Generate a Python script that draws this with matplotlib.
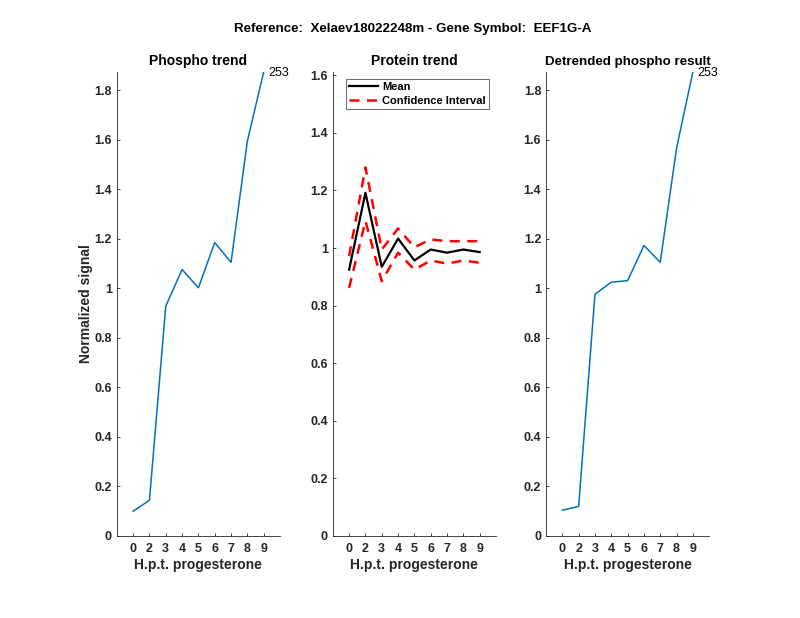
import matplotlib
matplotlib.use("Agg")
import matplotlib.pyplot as plt

# ---- Data ------------------------------------------------------------------
time_labels = ["0", "2", "3", "4", "5", "6", "7", "8", "9"]
phospho = [0.100, 0.144, 0.928, 1.076, 1.002, 1.185, 1.105, 1.594, 1.874]
detrended = [0.104, 0.120, 0.976, 1.025, 1.031, 1.173, 1.105, 1.566, 1.874]
protein_mean = [0.925, 1.192, 0.935, 1.033, 0.957, 0.995, 0.984, 0.995, 0.986]
protein_upper = [0.972, 1.280, 0.995, 1.068, 1.003, 1.030, 1.024, 1.024, 1.024]
protein_lower = [0.862, 1.094, 0.885, 0.984, 0.925, 0.957, 0.946, 0.957, 0.949]
site_label = "253"

# ---- Style ------------------------------------------------------------------
plt.rcParams.update({"font.family": ["Liberation Sans", "DejaVu Sans"],
                     "font.size": 9, "font.weight": "bold"})
blue = "#0072BD"
axcol = "#262626"
xpos = list(range(1, len(time_labels) + 1))

fig = plt.figure(figsize=(8, 6.18), dpi=100)
lefts = [0.146, 0.416, 0.6825]
bottom, width, height = 0.1327, 0.204, 0.751
axes = [fig.add_axes([l, bottom, width, height]) for l in lefts]


def style(ax, ymax):
    ax.set_xlim(0, 10)
    ax.set_ylim(0, ymax)
    ax.set_xticks(xpos)
    ax.set_xticklabels(time_labels)
    ax.spines[["top", "right"]].set_visible(False)
    for s in ("left", "bottom"):
        ax.spines[s].set_color(axcol)
        ax.spines[s].set_linewidth(0.6)
    ax.tick_params(direction="in", length=2.5, width=0.6, color=axcol,
                   labelcolor=axcol, labelsize=9)
    ax.tick_params(axis="x", pad=5)
    ax.set_xlabel("H.p.t. progesterone", fontsize=10, fontweight="bold",
                  color=axcol, labelpad=2)


# Phospho trend
ax = axes[0]
ax.plot(xpos, phospho, color=blue, lw=1.1)
style(ax, max(phospho))
ax.set_yticks([0, 0.2, 0.4, 0.6, 0.8, 1, 1.2, 1.4, 1.6, 1.8])
ax.set_yticklabels(["0", "0.2", "0.4", "0.6", "0.8", "1", "1.2", "1.4", "1.6", "1.8"])
ax.set_title("Phospho trend", fontsize=10, fontweight="bold", pad=5)
ax.set_ylabel("Normalized signal", fontsize=10, fontweight="bold", color=axcol,
              labelpad=1)
ax.annotate(site_label, (xpos[-1], phospho[-1]), xytext=(3, -1),
            textcoords="offset points", va="center", ha="left",
            fontsize=9, fontweight="normal")

# Protein trend
ax = axes[1]
ax.plot(xpos, protein_mean, color="black", lw=1.6, label="Mean")
ax.plot(xpos, protein_upper, color="red", lw=1.8, ls=(0, (4, 3)),
        label="Confidence Interval")
ax.plot(xpos, protein_lower, color="red", lw=1.8, ls=(0, (4, 3)))
style(ax, 1.612)
ax.set_yticks([0, 0.2, 0.4, 0.6, 0.8, 1, 1.2, 1.4, 1.6])
ax.set_yticklabels(["0", "0.2", "0.4", "0.6", "0.8", "1", "1.2", "1.4", "1.6"])
ax.set_title("Protein trend", fontsize=10, fontweight="bold", pad=5)
leg = ax.legend(loc="upper left", fontsize=8, frameon=True, fancybox=False,
                edgecolor=axcol, handlelength=2.6, borderpad=0.3,
                labelspacing=0.35, handletextpad=0.35, borderaxespad=0,
                bbox_to_anchor=(0.08, 0.985))
leg.get_frame().set_linewidth(0.6)

# Detrended phospho result
ax = axes[2]
ax.plot(xpos, detrended, color=blue, lw=1.1)
style(ax, max(detrended))
ax.set_yticks([0, 0.2, 0.4, 0.6, 0.8, 1, 1.2, 1.4, 1.6, 1.8])
ax.set_yticklabels(["0", "0.2", "0.4", "0.6", "0.8", "1", "1.2", "1.4", "1.6", "1.8"])
ax.set_title("Detrended phospho result", fontsize=9.6, fontweight="bold", pad=5)
ax.annotate(site_label, (xpos[-1], detrended[-1]), xytext=(3, -1),
            textcoords="offset points", va="center", ha="left",
            fontsize=9, fontweight="normal")

fig.suptitle("Reference:  Xelaev18022248m - Gene Symbol:  EEF1G-A",
             fontsize=9.6, fontweight="bold", x=0.516, y=0.963)

fig.savefig("out.png", dpi=100)
